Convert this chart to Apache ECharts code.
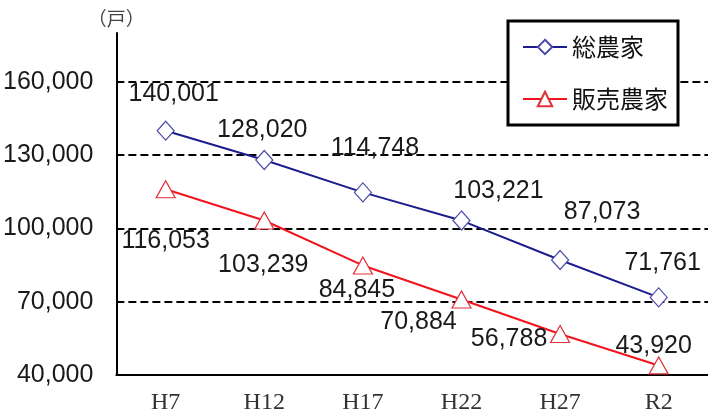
<!DOCTYPE html>
<html>
<head>
<meta charset="utf-8">
<script src="https://cdn.jsdelivr.net/npm/echarts@6/dist/echarts.min.js"></script>
<style>
  html, body { margin: 0; padding: 0; background: #fff; }
  #chart { width: 708px; height: 420px; }
</style>
</head>
<body>
<div id="chart"></div>
<script>
// survey years
const years = ['H7', 'H12', 'H17', 'H22', 'H27', 'R2']
// 総農家 (all farm households)
const totalFarms = [140001, 128020, 114748, 103221, 87073, 71761]
// 販売農家 (commercial farm households)
const salesFarms = [116053, 103239, 84845, 70884, 56788, 43920]

// label nudges, in px from each marker
const totalLabelShift = [[8, -37], [-2, -30], [12, -44], [37, -29], [42, -48], [4, -34]]
const salesLabelShift = [[0, 52], [-1, 45], [-6, 25], [-43, 23], [-51, 5], [-5, -19]]

const numFont = '"Liberation Sans Narrow", "Liberation Sans", sans-serif'

const fmt = v => v.toLocaleString('en-US')

const withLabels = (values, shifts) => values.map((v, i) => ({
  value: v,
  label: { offset: shifts[i] }
}))

const chart = echarts.init(document.getElementById('chart'))

chart.setOption({
  animation: false,
  backgroundColor: '#fff',
  grid: { left: 116, right: -5, top: 33, bottom: 45 },
  legend: {
    orient: 'vertical',
    left: 508,
    top: 21,
    width: 175,
    padding: [14, 10, 14, 14],
    itemGap: 28,
    itemWidth: 44,
    itemHeight: 18,
    borderColor: '#000',
    borderWidth: 3,
    backgroundColor: '#fff',
    textStyle: {
      fontFamily: '"Noto Sans CJK JP", sans-serif',
      fontSize: 24,
      color: '#111'
    },
    data: ['総農家', '販売農家']
  },
  xAxis: {
    type: 'category',
    data: years,
    boundaryGap: true,
    axisLine: { lineStyle: { color: '#000', width: 2 } },
    axisTick: { inside: true, length: 8, lineStyle: { color: '#000', width: 2 } },
    axisLabel: {
      margin: 16,
      fontFamily: '"Liberation Serif", serif',
      fontSize: 24,
      color: '#333'
    }
  },
  yAxis: {
    type: 'value',
    min: 40000,
    max: 180000,
    interval: 30000,
    name: '（戸）',
    nameLocation: 'end',
    nameGap: 5,
    nameTextStyle: {
      fontFamily: '"Noto Sans CJK JP", sans-serif',
      fontSize: 19,
      color: '#444',
      align: 'center'
    },
    axisLine: { show: true, lineStyle: { color: '#000', width: 2 } },
    axisTick: { show: false },
    axisLabel: {
      margin: 23,
      showMaxLabel: false,
      fontFamily: numFont,
      fontSize: 25,
      color: '#1a1a1a',
      formatter: fmt
    },
    splitLine: {
      show: true,
      showMinLine: false,
      showMaxLine: false,
      lineStyle: { color: '#000', width: 2, type: [8, 4] }
    }
  },
  series: [
    {
      name: '総農家',
      type: 'line',
      data: withLabels(totalFarms, totalLabelShift),
      symbol: 'diamond',
      symbolSize: [17, 19],
      showAllSymbol: true,
      lineStyle: { color: '#1c1c8e', width: 2 },
      itemStyle: { color: '#fff', borderColor: '#4a4aa8', borderWidth: 1.2 },
      label: {
        show: true,
        position: 'inside',
        align: 'center',
        verticalAlign: 'middle',
        fontFamily: numFont,
        fontSize: 25,
        color: '#1a1a1a',
        formatter: p => fmt(p.value)
      }
    },
    {
      name: '販売農家',
      type: 'line',
      data: withLabels(salesFarms, salesLabelShift),
      symbol: 'triangle',
      symbolSize: [19, 17],
      showAllSymbol: true,
      lineStyle: { color: '#f0141e', width: 2 },
      itemStyle: { color: '#fff', borderColor: '#e0303a', borderWidth: 1.2 },
      label: {
        show: true,
        position: 'inside',
        align: 'center',
        verticalAlign: 'middle',
        fontFamily: numFont,
        fontSize: 25,
        color: '#1a1a1a',
        formatter: p => fmt(p.value)
      }
    }
  ]
})
</script>
</body>
</html>
